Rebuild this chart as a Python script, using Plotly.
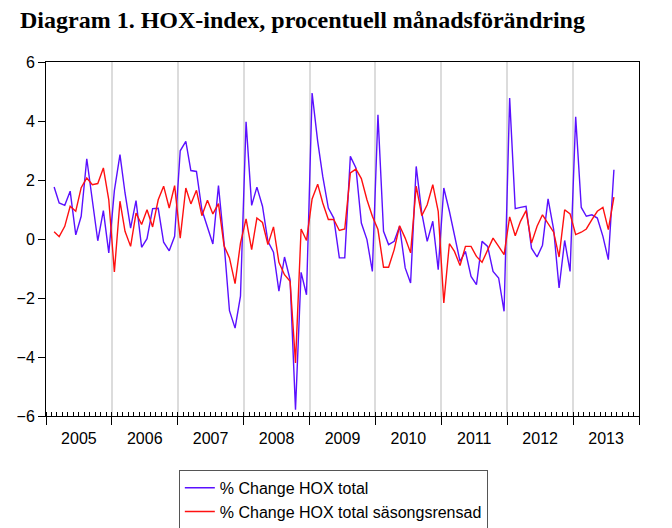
import pandas as pd
import plotly.graph_objects as go

# Monthly observations, 2005M02 - 2013M08
months = pd.date_range("2005-02-01", "2013-08-01", freq="MS") + pd.Timedelta(days=14)

hox_total = [
    1.76, 1.22, 1.14, 1.62, 0.14, 0.77, 2.72, 1.30, -0.06, 0.96, -0.47,
    1.64, 2.86, 1.56, 0.37, 1.30, -0.28, 0.01, 1.03, 1.04, -0.11, -0.40, 0.09,
    2.99, 3.31, 2.32, 2.29, 0.99, 0.43, -0.17, 1.81, -0.14, -2.43, -3.02, -1.94,
    3.97, 1.14, 1.76, 1.11, -0.08, -0.45, -1.77, -0.61, -1.38, -5.79, -1.13, -1.89,
    4.95, 3.31, 2.12, 1.05, 0.71, -0.64, -0.64, 2.80, 2.41, 0.54, -0.02, -1.10,
    4.21, 0.26, -0.19, -0.08, 0.43, -0.98, -1.49, 2.46, 0.88, -0.08, 0.60, -1.04,
    1.73, 0.94, 0.15, -0.76, -0.42, -1.27, -1.55, -0.08, -0.25, -1.10, -1.32, -2.45,
    4.78, 1.03, 1.07, 1.11, -0.31, -0.61, -0.21, 1.36, 0.32, -1.66, -0.05, -1.10,
    4.14, 1.07, 0.77, 0.82, 0.71, 0.09, -0.70, 2.35,
]

hox_sa = [
    0.25, 0.08, 0.43, 1.11, 0.94, 1.74, 2.07, 1.84, 1.88, 2.41, 1.33,
    -1.12, 1.28, 0.26, -0.25, 0.88, 0.49, 0.99, 0.41, 1.33, 1.79, 1.05, 1.81,
    0.03, 1.73, 1.19, 1.65, 0.79, 1.31, 0.85, 1.20, -0.23, -0.64, -1.51, -0.14,
    0.68, -0.36, 0.71, 0.56, -0.19, 0.41, -0.79, -1.21, -1.43, -4.20, 0.34, -0.05,
    1.36, 1.86, 1.22, 0.66, 0.66, 0.29, 0.34, 2.24, 2.37, 2.05, 1.33, 0.77,
    0.32, -0.96, -0.96, -0.36, 0.45, 0.03, -0.47, 1.79, 0.79, 1.16, 1.84, 0.94,
    -2.17, -0.16, -0.42, -0.90, -0.25, -0.25, -0.59, -0.79, -0.36, 0.03, -0.25, -0.53,
    0.75, 0.11, 0.60, 0.96, -0.14, 0.43, 0.82, 0.52, 0.23, -0.61, 0.99, 0.85,
    0.15, 0.23, 0.34, 0.66, 0.94, 1.07, 0.32, 1.42,
]

fig = go.Figure()

fig.add_trace(go.Scatter(
    x=months, y=hox_total, mode="lines",
    name="% Change HOX total",
    line=dict(color="#5a10ff", width=1.4),
))
fig.add_trace(go.Scatter(
    x=months, y=hox_sa, mode="lines",
    name="% Change HOX total säsongsrensad",
    line=dict(color="#ff1010", width=1.4),
))

# the page body adds an 8px offset, so margins are shifted to compensate
fig.update_layout(
    width=672, height=528,
    margin=dict(l=37.5, r=41.3, t=53.7, b=120.3, autoexpand=False),
    paper_bgcolor="white",
    plot_bgcolor="white",
    font=dict(family="Liberation Sans, Arial", size=16, color="black"),
    showlegend=True,
    legend=dict(
        x=0.224, y=-0.152, xanchor="left", yanchor="top",
        bordercolor="#555555", borderwidth=1,
        font=dict(size=16), tracegroupgap=0,
        itemwidth=30,
    ),
    annotations=[dict(
        text="<b>Diagram 1. HOX-index, procentuell månadsförändring</b>",
        xref="paper", yref="paper", x=-0.0464, y=1.12,
        xanchor="left", yanchor="middle", showarrow=False,
        font=dict(family="Liberation Serif, Times New Roman", size=24, color="black"),
    )],
)

fig.update_xaxes(
    range=["2005-01-01", "2014-01-01"],
    tick0="2005-01-01", dtick="M12", tickformat="%Y",
    ticklabelmode="period",
    ticks="outside", ticklen=8, tickcolor="black",
    showgrid=True, gridcolor="#dcdcdc", gridwidth=1.5,
    showline=True, linecolor="black", linewidth=1, mirror=True,
    minor=dict(dtick="M1", ticks="inside", ticklen=4, tickcolor="black", showgrid=False),
    zeroline=False, automargin=False,
)

fig.update_yaxes(
    range=[-6, 6], dtick=2,
    ticks="outside", ticklen=7, tickcolor="black",
    showgrid=False, zeroline=False,
    showline=True, linecolor="black", linewidth=1, mirror=True,
    automargin=False,
)

fig.write_html("out.html")
